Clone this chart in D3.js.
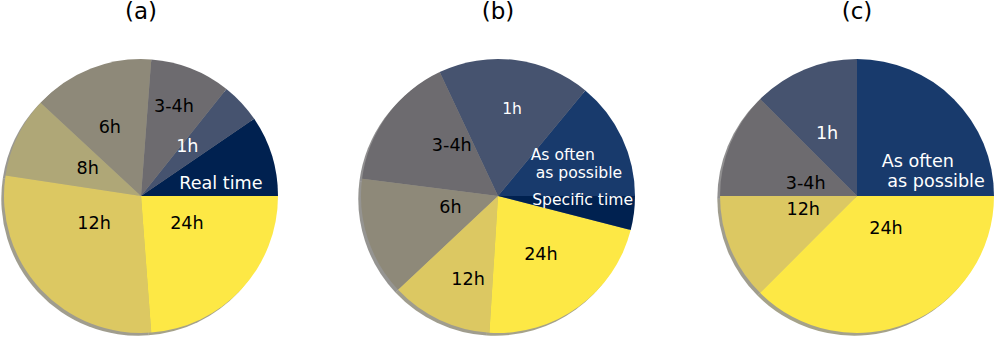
<!DOCTYPE html>
<html>
<head>
<meta charset="utf-8">
<script src="https://cdn.jsdelivr.net/npm/d3@7"></script>
<style>
  body { margin: 0; background: #fff; }
  svg { display: block; font-family: "DejaVu Sans", sans-serif; }
</style>
</head>
<body>
<script>

// (a)
const labelsA = ["Real time", "1h", "3-4h", "6h", "8h", "12h", "24h"];
const valuesA = [2, 1, 2, 3, 2, 6, 5];

// (b)
const labelsB = ["As often\n as possible", "1h", "3-4h", "6h", "12h", "24h", "Specific time"];
const valuesB = [7, 9, 8, 7, 6, 11, 2];

// (c)
const labelsC = ["As often\n as possible", "1h", "3-4h", "12h", "24h"];
const valuesC = [2, 1, 1, 1, 3];

const titles = ["(a)", "(b)", "(c)"];

const colors = {
    "Real time": "#002150",
    "Specific time": "#002150",
    "As often\n as possible": "#183a6c",
    "1h": "#46536f",
    "3-4h": "#6d6b6f",
    "6h": "#8e8979",
    "8h": "#afa777",
    "12h": "#dcc862",
    "24h": "#fde845"
};
const darkOnes = ["Real time", "Specific time", "As often\n as possible", "1h"];

// label nudges (px) away from the default spot at 0.3 radius
const nudges = [
    [[-1, -1], [5, -22], [-2, -52], [-5, -31], [-5, -11], [0, -1], [-1, -1]],
    [[-4.5, -15.5], [-1, -47], [7, -27], [2.7, -2], [4.4, 45], [2, 24.7], [-6.6, -2]],
    [[-4.4, 3.6], [-3, -25.3], [6.6, 2], [1, -3.4], [-3.5, -6.3]]
];
// (b) uses a smaller font for the white labels
const smallWhite = [false, true, false];

const width = 994, height = 337;
const radius = 137;
const centers = [[141, 196], [498, 196], [857, 196]];

let svg = d3.select("body").append("svg")
    .attr("width", width)
    .attr("height", height);

// counter-clockwise from 3 o'clock, like matplotlib
let pie = d3.pie()
    .sort(null)
    .value(d => d.value)
    .startAngle(Math.PI / 2)
    .endAngle(Math.PI / 2 - 2 * Math.PI);

let arc = d3.arc().innerRadius(0).outerRadius(radius);

let shade = c => {
    let r = d3.rgb(c);
    return d3.rgb(r.r * 0.3, r.g * 0.3, r.b * 0.3).toString();
};

let drawPie = (labels, values, k) => {
    let data = labels.map((l, i) => ({ label: l, value: values[i] }));
    let arcs = pie(data);

    let g = svg.append("g")
        .attr("transform", "translate(" + centers[k][0] + "," + centers[k][1] + ")");

    // shadow
    g.append("g")
        .attr("transform", "translate(-2.7,2.7)")
        .selectAll("path")
        .data(arcs)
        .enter()
        .append("path")
        .attr("d", arc)
        .attr("fill", d => shade(colors[d.data.label]))
        .attr("opacity", 0.5);

    g.append("g")
        .selectAll("path")
        .data(arcs)
        .enter()
        .append("path")
        .attr("d", arc)
        .attr("fill", d => colors[d.data.label]);

    let text = g.append("g")
        .selectAll("text")
        .data(arcs)
        .enter()
        .append("text")
        .attr("xml:space", "preserve")
        .style("white-space", "pre")
        .attr("fill", d => darkOnes.includes(d.data.label) ? "#fff" : "#000")
        .attr("font-size", d => (smallWhite[k] && darkOnes.includes(d.data.label)) ? 15.6 : 17.6)
        .attr("text-anchor", d => {
            let mid = (d.startAngle + d.endAngle) / 2;
            return Math.sin(mid) > 0 ? "start" : "end";
        })
        .attr("transform", (d, i) => {
            let mid = (d.startAngle + d.endAngle) / 2;
            let x = Math.sin(mid) * radius * 0.3 + nudges[k][i][0];
            let y = -Math.cos(mid) * radius * 0.3 + nudges[k][i][1];
            return "translate(" + x + "," + y + ")";
        });

    text.each(function(d) {
        let lines = d.data.label.split("\n");
        let t = d3.select(this);
        lines.forEach((line, j) => {
            t.append("tspan")
                .attr("x", 0)
                .attr("y", 0)
                .attr("dy", ((j - (lines.length - 1) / 2) * 1.15 + 0.36) + "em")
                .text(line);
        });
    });

    svg.append("text")
        .attr("x", centers[k][0])
        .attr("y", 18.5)
        .attr("text-anchor", "middle")
        .attr("font-size", 23)
        .attr("fill", "#000")
        .text(titles[k]);
};

drawPie(labelsA, valuesA, 0);
drawPie(labelsB, valuesB, 1);
drawPie(labelsC, valuesC, 2);

</script>
</body>
</html>
